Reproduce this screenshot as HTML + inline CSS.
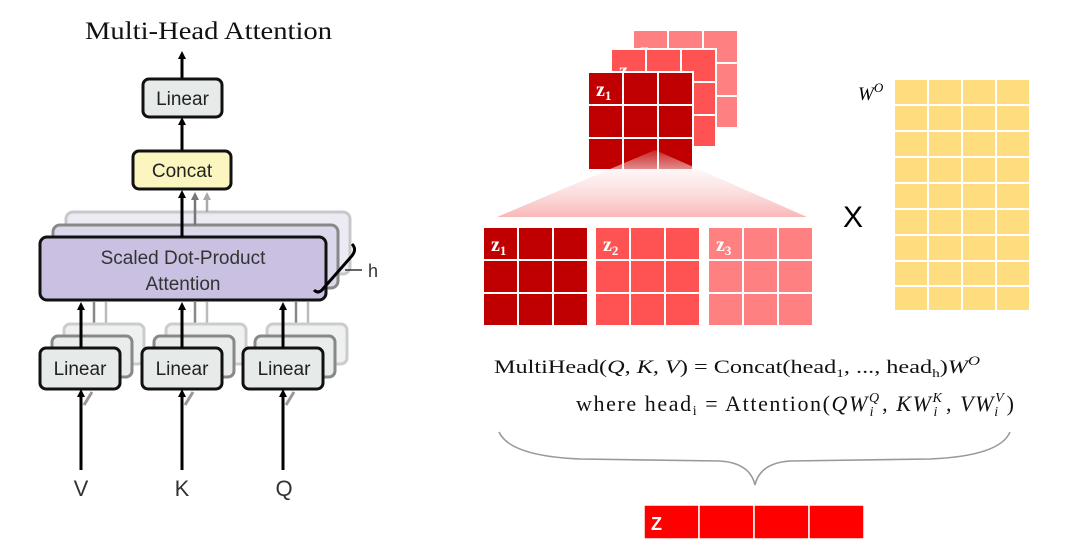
<!DOCTYPE html>
<html><head><meta charset="utf-8"><style>
html,body{margin:0;padding:0;background:#fff;}
svg{display:block;}
</style></head><body>
<svg width="1088" height="547" viewBox="0 0 1088 547" xmlns="http://www.w3.org/2000/svg">
<defs>
<marker id="ah" markerWidth="8" markerHeight="8" refX="4" refY="4" orient="auto" markerUnits="userSpaceOnUse">
<path d="M0,0 L8,4 L0,8 z" fill="#000"/></marker>
<marker id="ahg" markerWidth="8" markerHeight="8" refX="4" refY="4" orient="auto" markerUnits="userSpaceOnUse">
<path d="M0,0 L8,4 L0,8 z" fill="#777"/></marker>
<marker id="ahl" markerWidth="8" markerHeight="8" refX="4" refY="4" orient="auto" markerUnits="userSpaceOnUse">
<path d="M0,0 L8,4 L0,8 z" fill="#aaa"/></marker>
<linearGradient id="tri" x1="0" y1="0" x2="0" y2="1">
<stop offset="0" stop-color="#ffffff" stop-opacity="0.15"/>
<stop offset="0.3" stop-color="#fdf0f0" stop-opacity="0.6"/>
<stop offset="1" stop-color="#f9b8b8"/>
</linearGradient>
</defs>

<!-- LEFT DIAGRAM -->
<text x="85" y="39" font-family="Liberation Serif, serif" font-size="25" fill="#111" textLength="247" lengthAdjust="spacingAndGlyphs">Multi-Head Attention</text>
<line x1="182" y1="78" x2="182" y2="55" stroke="#000" stroke-width="3" marker-end="url(#ah)"/>
<rect x="143" y="79" width="79" height="38" rx="6" fill="#e6ebea" stroke="#111" stroke-width="3"/>
<text x="182.5" y="105" font-family="Liberation Sans, sans-serif" font-size="19" text-anchor="middle" fill="#222">Linear</text>
<line x1="182" y1="150" x2="182" y2="121" stroke="#000" stroke-width="3" marker-end="url(#ah)"/>
<rect x="133" y="151" width="98" height="38" rx="6" fill="#fbf5c0" stroke="#111" stroke-width="3"/>
<text x="182" y="177" font-family="Liberation Sans, sans-serif" font-size="19" text-anchor="middle" fill="#222">Concat</text>

<rect x="66" y="212" width="284" height="62" rx="7" fill="#ecebf4" stroke="#c8c8c8" stroke-width="3"/>
<rect x="53" y="225" width="285" height="63" rx="7" fill="#dcd8ec" stroke="#888" stroke-width="3"/>
<line x1="207" y1="212" x2="207" y2="196" stroke="#aaa" stroke-width="2.5" marker-end="url(#ahl)"/>
<line x1="195" y1="225" x2="195" y2="196" stroke="#777" stroke-width="2.5" marker-end="url(#ahg)"/>
<rect x="40" y="237" width="286" height="63" rx="7" fill="#c9c0e2" stroke="#111" stroke-width="3"/>
<line x1="182" y1="237" x2="182" y2="194" stroke="#000" stroke-width="3" marker-end="url(#ah)"/>
<text x="183" y="264" font-family="Liberation Sans, sans-serif" font-size="19" text-anchor="middle" fill="#333">Scaled Dot-Product</text>
<text x="183" y="290" font-family="Liberation Sans, sans-serif" font-size="19" text-anchor="middle" fill="#333">Attention</text>
<path d="M352,244 Q358,250 350,258 L322,290 Q318,294 314,290" fill="none" stroke="#000" stroke-width="3"/>
<line x1="345" y1="270" x2="362" y2="270" stroke="#333" stroke-width="1.5"/>
<text x="368" y="277" font-family="Liberation Sans, sans-serif" font-size="18" fill="#333">h</text>

<g font-family="Liberation Sans, sans-serif" font-size="19" text-anchor="middle" fill="#222">
<g>
<line x1="106" y1="324" x2="106" y2="302" stroke="#bbb" stroke-width="2.5"/>
<line x1="94" y1="336" x2="94" y2="302" stroke="#888" stroke-width="2.5"/>
<rect x="64" y="324" width="80" height="40" rx="6" fill="#eef1f0" stroke="#ccc" stroke-width="3"/>
<rect x="52" y="336" width="80" height="41" rx="6" fill="#e8ecea" stroke="#888" stroke-width="3"/>
<rect x="40" y="348" width="80" height="41" rx="6" fill="#e6ebea" stroke="#111" stroke-width="3"/>
<line x1="81" y1="348" x2="81" y2="306" stroke="#000" stroke-width="3" marker-end="url(#ah)"/>
<text x="80" y="375">Linear</text>
<line x1="81" y1="470" x2="81" y2="393" stroke="#000" stroke-width="3" marker-end="url(#ah)"/>
<line x1="84" y1="405" x2="92" y2="392" stroke="#999" stroke-width="3"/>
</g>
<g>
<line x1="207" y1="324" x2="207" y2="302" stroke="#bbb" stroke-width="2.5"/>
<line x1="195" y1="336" x2="195" y2="302" stroke="#888" stroke-width="2.5"/>
<rect x="166" y="324" width="80" height="40" rx="6" fill="#eef1f0" stroke="#ccc" stroke-width="3"/>
<rect x="154" y="336" width="80" height="41" rx="6" fill="#e8ecea" stroke="#888" stroke-width="3"/>
<rect x="142" y="348" width="80" height="41" rx="6" fill="#e6ebea" stroke="#111" stroke-width="3"/>
<line x1="182" y1="348" x2="182" y2="306" stroke="#000" stroke-width="3" marker-end="url(#ah)"/>
<text x="182" y="375">Linear</text>
<line x1="182" y1="470" x2="182" y2="393" stroke="#000" stroke-width="3" marker-end="url(#ah)"/>
<line x1="185" y1="405" x2="193" y2="392" stroke="#999" stroke-width="3"/>
</g>
<g>
<line x1="308" y1="324" x2="308" y2="302" stroke="#bbb" stroke-width="2.5"/>
<line x1="296" y1="336" x2="296" y2="302" stroke="#888" stroke-width="2.5"/>
<rect x="267" y="324" width="80" height="40" rx="6" fill="#eef1f0" stroke="#ccc" stroke-width="3"/>
<rect x="255" y="336" width="80" height="41" rx="6" fill="#e8ecea" stroke="#888" stroke-width="3"/>
<rect x="243" y="348" width="80" height="41" rx="6" fill="#e6ebea" stroke="#111" stroke-width="3"/>
<line x1="283" y1="348" x2="283" y2="306" stroke="#000" stroke-width="3" marker-end="url(#ah)"/>
<text x="284" y="375">Linear</text>
<line x1="283" y1="470" x2="283" y2="393" stroke="#000" stroke-width="3" marker-end="url(#ah)"/>
<line x1="286" y1="405" x2="294" y2="392" stroke="#999" stroke-width="3"/>
</g>
</g>
<g font-family="Liberation Sans, sans-serif" font-size="22" text-anchor="middle" fill="#333">
<text x="81" y="496">V</text><text x="182" y="496">K</text><text x="284" y="496">Q</text>
</g>

<!-- STACKED GRIDS -->
<g stroke="#fff" stroke-width="2">
<rect x="633" y="30" width="35" height="33" fill="#ff8080"/><rect x="668" y="30" width="35" height="33" fill="#ff8080"/><rect x="703" y="30" width="35" height="33" fill="#ff8080"/>
<rect x="633" y="63" width="35" height="33" fill="#ff8080"/><rect x="668" y="63" width="35" height="33" fill="#ff8080"/><rect x="703" y="63" width="35" height="33" fill="#ff8080"/>
<rect x="633" y="96" width="35" height="32" fill="#ff8080"/><rect x="668" y="96" width="35" height="32" fill="#ff8080"/><rect x="703" y="96" width="35" height="32" fill="#ff8080"/>
</g>
<text x="640" y="57" font-family="Liberation Serif, serif" font-weight="bold" font-size="20" fill="#fff">z</text>
<g stroke="#fff" stroke-width="2">
<rect x="611" y="49" width="35" height="33" fill="#ff5252"/><rect x="646" y="49" width="35" height="33" fill="#ff5252"/><rect x="681" y="49" width="35" height="33" fill="#ff5252"/>
<rect x="611" y="82" width="35" height="33" fill="#ff5252"/><rect x="646" y="82" width="35" height="33" fill="#ff5252"/><rect x="681" y="82" width="35" height="33" fill="#ff5252"/>
<rect x="611" y="115" width="35" height="32" fill="#ff5252"/><rect x="646" y="115" width="35" height="32" fill="#ff5252"/><rect x="681" y="115" width="35" height="32" fill="#ff5252"/>
</g>
<text x="619" y="77" font-family="Liberation Serif, serif" font-weight="bold" font-size="20" fill="#fff">z<tspan font-size="13" dy="4">2</tspan></text>
<g stroke="#fff" stroke-width="2">
<rect x="588" y="72" width="35" height="33" fill="#c00000"/><rect x="623" y="72" width="35" height="33" fill="#c00000"/><rect x="658" y="72" width="35" height="33" fill="#c00000"/>
<rect x="588" y="105" width="35" height="33" fill="#c00000"/><rect x="623" y="105" width="35" height="33" fill="#c00000"/><rect x="658" y="105" width="35" height="33" fill="#c00000"/>
<rect x="588" y="138" width="35" height="32" fill="#c00000"/><rect x="623" y="138" width="35" height="32" fill="#c00000"/><rect x="658" y="138" width="35" height="32" fill="#c00000"/>
</g>
<text x="596" y="96" font-family="Liberation Serif, serif" font-weight="bold" font-size="20" fill="#fff">z<tspan font-size="13" dy="4">1</tspan></text>
<polygon points="655,150 497,217 807,217" fill="url(#tri)"/>

<g stroke="#fff" stroke-width="2">
<g fill="#c00000">
<rect x="483" y="227" width="35" height="33"/><rect x="518" y="227" width="35" height="33"/><rect x="553" y="227" width="35" height="33"/>
<rect x="483" y="260" width="35" height="33"/><rect x="518" y="260" width="35" height="33"/><rect x="553" y="260" width="35" height="33"/>
<rect x="483" y="293" width="35" height="33"/><rect x="518" y="293" width="35" height="33"/><rect x="553" y="293" width="35" height="33"/>
</g>
<g fill="#ff5252">
<rect x="595" y="227" width="35" height="33"/><rect x="630" y="227" width="35" height="33"/><rect x="665" y="227" width="35" height="33"/>
<rect x="595" y="260" width="35" height="33"/><rect x="630" y="260" width="35" height="33"/><rect x="665" y="260" width="35" height="33"/>
<rect x="595" y="293" width="35" height="33"/><rect x="630" y="293" width="35" height="33"/><rect x="665" y="293" width="35" height="33"/>
</g>
<g fill="#ff8080">
<rect x="708" y="227" width="35" height="33"/><rect x="743" y="227" width="35" height="33"/><rect x="778" y="227" width="35" height="33"/>
<rect x="708" y="260" width="35" height="33"/><rect x="743" y="260" width="35" height="33"/><rect x="778" y="260" width="35" height="33"/>
<rect x="708" y="293" width="35" height="33"/><rect x="743" y="293" width="35" height="33"/><rect x="778" y="293" width="35" height="33"/>
</g>
</g>
<g font-family="Liberation Serif, serif" font-weight="bold" font-size="20" fill="#fff">
<text x="491" y="251">z<tspan font-size="13" dy="4">1</tspan></text>
<text x="603" y="251">z<tspan font-size="13" dy="4">2</tspan></text>
<text x="716" y="251">z<tspan font-size="13" dy="4">3</tspan></text>
</g>

<text x="853" y="227" font-family="Liberation Sans, sans-serif" font-size="30" text-anchor="middle" fill="#000">X</text>
<text x="858" y="100" font-family="Liberation Serif, serif" font-style="italic" font-size="19" fill="#000">W<tspan font-size="13" dy="-8">O</tspan></text>
<g fill="#ffdd7f" stroke="#fff" stroke-width="2">
<rect x="894" y="79" width="34" height="26"/><rect x="928" y="79" width="34" height="26"/><rect x="962" y="79" width="34" height="26"/><rect x="996" y="79" width="34" height="26"/>
<rect x="894" y="105" width="34" height="26"/><rect x="928" y="105" width="34" height="26"/><rect x="962" y="105" width="34" height="26"/><rect x="996" y="105" width="34" height="26"/>
<rect x="894" y="131" width="34" height="26"/><rect x="928" y="131" width="34" height="26"/><rect x="962" y="131" width="34" height="26"/><rect x="996" y="131" width="34" height="26"/>
<rect x="894" y="157" width="34" height="26"/><rect x="928" y="157" width="34" height="26"/><rect x="962" y="157" width="34" height="26"/><rect x="996" y="157" width="34" height="26"/>
<rect x="894" y="183" width="34" height="26"/><rect x="928" y="183" width="34" height="26"/><rect x="962" y="183" width="34" height="26"/><rect x="996" y="183" width="34" height="26"/>
<rect x="894" y="209" width="34" height="26"/><rect x="928" y="209" width="34" height="26"/><rect x="962" y="209" width="34" height="26"/><rect x="996" y="209" width="34" height="26"/>
<rect x="894" y="235" width="34" height="26"/><rect x="928" y="235" width="34" height="26"/><rect x="962" y="235" width="34" height="26"/><rect x="996" y="235" width="34" height="26"/>
<rect x="894" y="261" width="34" height="25"/><rect x="928" y="261" width="34" height="25"/><rect x="962" y="261" width="34" height="25"/><rect x="996" y="261" width="34" height="25"/>
<rect x="894" y="286" width="34" height="25"/><rect x="928" y="286" width="34" height="25"/><rect x="962" y="286" width="34" height="25"/><rect x="996" y="286" width="34" height="25"/>
</g>

<g font-family="Liberation Serif, serif" font-size="19" fill="#111">
<text x="494" y="373" textLength="486" lengthAdjust="spacingAndGlyphs">MultiHead(<tspan font-style="italic">Q</tspan>, <tspan font-style="italic">K</tspan>, <tspan font-style="italic">V</tspan>) = Concat(head<tspan font-size="12" dy="4">1</tspan><tspan dy="-4">, ..., head</tspan><tspan font-size="12" dy="4">h</tspan><tspan dy="-4">)</tspan><tspan font-style="italic">W</tspan><tspan font-style="italic" font-size="13" dy="-8">O</tspan></text>
<text x="576" y="411" font-size="22" textLength="438" lengthAdjust="spacing">where head<tspan font-size="14" dy="4">i</tspan><tspan dy="-4"> = Attention(</tspan><tspan font-style="italic">QW</tspan><tspan font-style="italic" font-size="14" dy="-9">Q</tspan><tspan font-style="italic" font-size="14" dx="-11" dy="14">i</tspan><tspan dx="7" dy="-5">, </tspan><tspan font-style="italic">KW</tspan><tspan font-style="italic" font-size="14" dy="-9">K</tspan><tspan font-style="italic" font-size="14" dx="-10" dy="14">i</tspan><tspan dx="7" dy="-5">, </tspan><tspan font-style="italic">VW</tspan><tspan font-style="italic" font-size="14" dy="-9">V</tspan><tspan font-style="italic" font-size="14" dx="-10" dy="14">i</tspan><tspan dx="7" dy="-5">)</tspan></text>
</g>

<path d="M499,432 Q510,456 580,459 L720,461 Q750,463 755,485 Q760,463 790,461 L930,459 Q1000,456 1010,432" fill="none" stroke="#999" stroke-width="1.6"/>

<g fill="#ff0000" stroke="#fff" stroke-width="1.5">
<rect x="644" y="505" width="55" height="34"/><rect x="699" y="505" width="55" height="34"/><rect x="754" y="505" width="55" height="34"/><rect x="809" y="505" width="55" height="34"/>
</g>
<text x="651" y="530" font-family="Liberation Sans, sans-serif" font-weight="bold" font-size="18" fill="#fff">Z</text>
</svg>
</body></html>
